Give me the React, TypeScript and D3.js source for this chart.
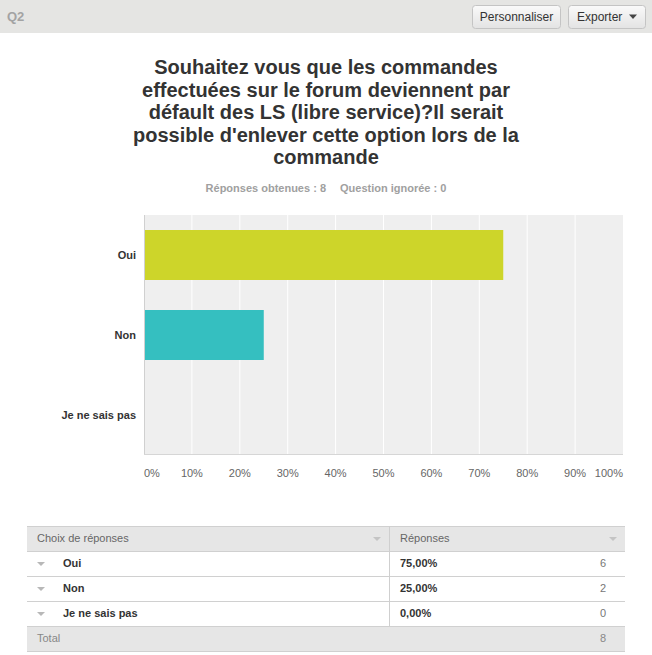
import React from "react"
import * as d3 from "d3"

// data
const categories = ["Oui", "Non", "Je ne sais pas"]
const percents = [75, 25, 0]
const counts = [6, 2, 0]
const barColors = ["#cdd52a", "#35bfc0", "#8f8f8f"]
const xTicks = [0, 10, 20, 30, 40, 50, 60, 70, 80, 90, 100]
const titleLines = [
  "Souhaitez vous que les commandes",
  "effectuées sur le forum deviennent par",
  "défault des LS (libre service)?Il serait",
  "possible d'enlever cette option lors de la",
  "commande",
]
const answered = 8
const skipped = 0

const W = 652
const H = 655
const font = "'Liberation Sans', Arial, sans-serif"

const plot = { left: 144, right: 623, top: 215, bottom: 455 }

const Arrow = ({ x, y, color = "#b8b8b8" }: { x: number; y: number; color?: string }) => (
  <path d={`M${x - 4},${y - 2} L${x + 4},${y - 2} L${x},${y + 2} Z`} fill={color} />
)

const App = () => {
  const x = d3.scaleLinear().domain([0, 100]).range([plot.left, plot.right])
  const y = d3
    .scaleBand<string>()
    .domain(categories)
    .range([plot.top, plot.bottom])
    .paddingInner(0.375)
    .paddingOuter(0.1875)

  // table geometry
  const tLeft = 27
  const tRight = 625
  const tDiv = 389
  const rowH = 25
  const tTop = 526
  const total = d3.sum(counts)

  return (
    <svg
      width={W}
      height={H}
      style={{ position: "absolute", left: 0, top: 0, fontFamily: font }}
    >
      <defs>
        <linearGradient id="btn" x1="0" y1="0" x2="0" y2="1">
          <stop offset="0" stopColor="#fafafa" />
          <stop offset="1" stopColor="#e3e3e3" />
        </linearGradient>
      </defs>
      <rect x={0} y={0} width={W} height={H} fill="#fff" />

      {/* header bar */}
      <rect x={0} y={0} width={W} height={33} fill="#e5e5e3" />
      <text x={7} y={21} fontSize={13} fontWeight="bold" fill="#a3a3a3">
        Q2
      </text>
      <rect x={472.5} y={5.5} width={88} height={23} rx={3} fill="url(#btn)" stroke="#c4c4c4" />
      <text x={516.5} y={21} fontSize={12} textAnchor="middle" fill="#333">
        Personnaliser
      </text>
      <rect x={568.5} y={5.5} width={77} height={23} rx={3} fill="url(#btn)" stroke="#c4c4c4" />
      <text x={577} y={21} fontSize={12} fill="#333">
        Exporter
      </text>
      <path d="M629,14.5 L637,14.5 L633,19 Z" fill="#444" />

      {/* title */}
      {titleLines.map((t, i) => (
        <text
          key={i}
          x={326}
          y={74 + i * 22.5}
          fontSize={20}
          fontWeight="bold"
          textAnchor="middle"
          fill="#333"
        >
          {t}
        </text>
      ))}
      <text x={326} y={192} fontSize={11} fontWeight="bold" textAnchor="end" fill="#a0a0a0">
        {`Réponses obtenues : ${answered}`}
      </text>
      <text x={340} y={192} fontSize={11} fontWeight="bold" fill="#a0a0a0">
        {`Question ignorée : ${skipped}`}
      </text>

      {/* plot background + grid */}
      <rect
        x={plot.left}
        y={plot.top}
        width={plot.right - plot.left}
        height={plot.bottom - plot.top}
        fill="#efefef"
      />
      {xTicks.slice(1, -1).map((t) => (
        <line key={t} x1={x(t)} x2={x(t)} y1={plot.top} y2={plot.bottom} stroke="#fff" strokeWidth={1} />
      ))}
      <line x1={plot.left + 0.5} x2={plot.left + 0.5} y1={plot.top} y2={plot.bottom} stroke="#d0d0d0" />
      <line x1={plot.left} x2={plot.right} y1={plot.bottom - 0.5} y2={plot.bottom - 0.5} stroke="#d6d6d6" />

      {/* bars */}
      {categories.map((c, i) => (
        <rect
          key={c}
          x={x(0) + 1}
          y={y(c)}
          width={Math.max(0, x(percents[i]) - x(0) - 1)}
          height={y.bandwidth()}
          fill={barColors[i]}
        />
      ))}

      {/* category labels */}
      {categories.map((c) => (
        <text
          key={c}
          x={136}
          y={(y(c) || 0) + y.bandwidth() / 2 + 4}
          fontSize={11}
          fontWeight="bold"
          textAnchor="end"
          fill="#333"
        >
          {c}
        </text>
      ))}

      {/* x tick labels */}
      {xTicks.map((t, i) => (
        <text
          key={t}
          x={x(t)}
          y={477}
          fontSize={11}
          textAnchor={i === 0 ? "start" : i === xTicks.length - 1 ? "end" : "middle"}
          fill="#666"
        >
          {`${t}%`}
        </text>
      ))}

      {/* table */}
      <rect x={tLeft} y={tTop} width={tRight - tLeft} height={rowH} fill="#e6e6e6" />
      <rect x={tLeft} y={tTop + rowH * 4} width={tRight - tLeft} height={rowH} fill="#e6e6e6" />
      {d3.range(6).map((i) => (
        <line
          key={i}
          x1={tLeft}
          x2={tRight}
          y1={tTop + i * rowH + 0.5}
          y2={tTop + i * rowH + 0.5}
          stroke="#d0d0d0"
        />
      ))}
      <line x1={tDiv + 0.5} x2={tDiv + 0.5} y1={tTop} y2={tTop + rowH * 4} stroke="#cfcfcf" />
      <text x={37} y={tTop + 16} fontSize={11} fill="#666">
        Choix de réponses
      </text>
      <Arrow x={377} y={tTop + 13} color="#c4c4c4" />
      <text x={400} y={tTop + 16} fontSize={11} fill="#666">
        Réponses
      </text>
      <Arrow x={613} y={tTop + 13} color="#c4c4c4" />

      {categories.map((c, i) => {
        const ry = tTop + rowH * (i + 1)
        return (
          <g key={c}>
            <Arrow x={41} y={ry + 13} />
            <text x={63} y={ry + 16} fontSize={11} fontWeight="bold" fill="#333">
              {c}
            </text>
            <text x={400} y={ry + 16} fontSize={11} fontWeight="bold" fill="#333">
              {`${percents[i].toFixed(2).replace(".", ",")}%`}
            </text>
            <text x={606} y={ry + 16} fontSize={11} textAnchor="end" fill="#777">
              {counts[i]}
            </text>
          </g>
        )
      })}
      <text x={37} y={tTop + rowH * 4 + 16} fontSize={11} fill="#888">
        Total
      </text>
      <text x={606} y={tTop + rowH * 4 + 16} fontSize={11} textAnchor="end" fill="#888">
        {total}
      </text>
    </svg>
  )
}

export default App
